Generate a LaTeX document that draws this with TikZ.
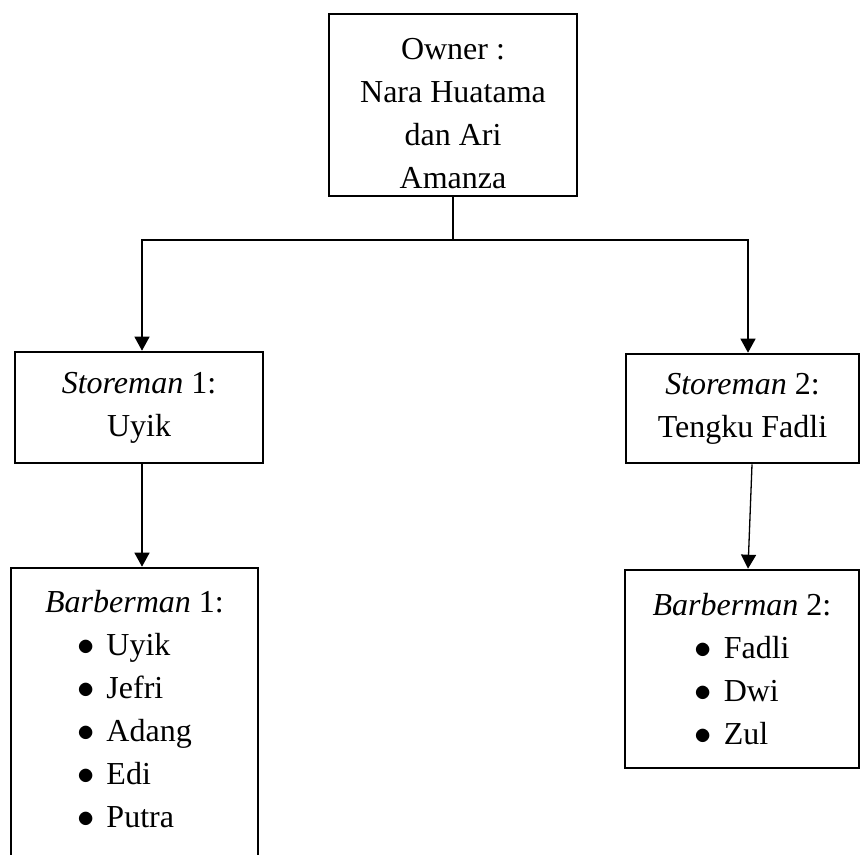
\documentclass[tikz,border=0pt]{standalone}
\usepackage{fontspec}
\setmainfont{Liberation Serif}
\usetikzlibrary{arrows.meta,positioning}
\tikzset{
  orgbox/.style={draw,line width=1.3pt,align=center,inner sep=0pt},
  link/.style={line width=.65pt},
  linkarrow/.style={link,-{Triangle[width=7.5pt,length=7pt]}},
  namelist/.style={align=center,inner sep=0pt,anchor=north},
}
\newcommand{\butir}[1]{$\bullet$\hspace{6pt}#1}
\begin{document}
\begin{tikzpicture}[x=.5pt,y=-.5pt,font=\fontsize{16}{21.5}\selectfont]
  \clip (0,0) rectangle (861,855);
  \node[orgbox,minimum width=124pt,minimum height=91pt] (owner) at (453,105)
    {\rule{0pt}{19pt}Owner :\\Nara Huatama\\dan Ari\\Amanza};
  \node[orgbox,minimum width=124pt,minimum height=55.5pt] (store1) at (139,407.5)
    {\textit{Storeman} 1:\\Uyik};
  \node[orgbox,minimum width=116.5pt,minimum height=54.5pt] (store2) at (742.5,408.5)
    {\textit{Storeman} 2:\\Tengku Fadli};
  \node[orgbox,minimum width=123.5pt,minimum height=156pt] (barb1) at (134.5,724) {};
  \node[orgbox,minimum width=117pt,minimum height=99pt] (barb2) at (742,669) {};
  \node[namelist,below=11.5pt of barb1.north] (list1)
    {\textit{Barberman} 1:\\\begin{tabular}[t]{@{}l@{}}\butir{Uyik}\\\butir{Jefri}\\\butir{Adang}\\\butir{Edi}\\\butir{Putra}\end{tabular}};
  \node[namelist,below=12pt of barb2.north] (list2)
    {\textit{Barberman} 2:\\\begin{tabular}[t]{@{}l@{}}\butir{Fadli}\\\butir{Dwi}\\\butir{Zul}\end{tabular}};
  \coordinate (branch) at (453,240);
  \draw[link] (owner) -- (branch);
  \draw[linkarrow] (branch) -| ([xshift=1.5pt]store1.north);
  \draw[linkarrow] (branch) -| ([xshift=2.75pt]store2.north);
  \draw[linkarrow] ([xshift=1.5pt]store1.south) -- ([xshift=1.5pt]store1.south |- barb1.north);
  \draw[linkarrow] ([xshift=4.75pt]store2.south) -- ([xshift=3pt]barb2.north);
\end{tikzpicture}
\end{document}
